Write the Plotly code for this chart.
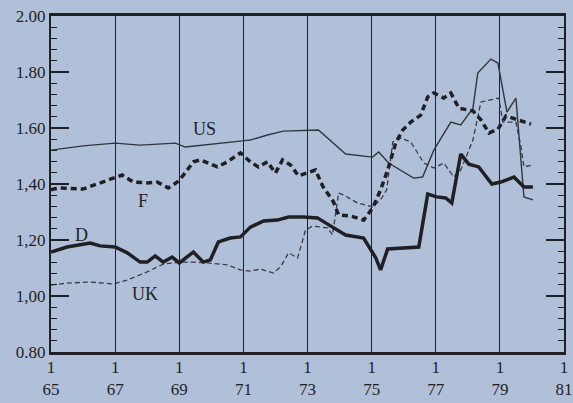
import plotly.graph_objects as go

# Time axis in fractional years (1965.0 = first quarter 1965)
us_years = [1965.0, 1966.0, 1967.0, 1967.78, 1968.88, 1969.19, 1970.97, 1971.22, 1971.75,
            1972.25, 1973.34, 1974.19, 1975.03, 1975.22, 1975.53, 1976.31, 1976.59, 1976.94,
            1977.47, 1977.78, 1978.16, 1978.31, 1978.72, 1978.94, 1979.22, 1979.5, 1979.75, 1980.03]
us_values = [1.521, 1.536, 1.546, 1.539, 1.546, 1.532, 1.554, 1.557, 1.575,
             1.589, 1.593, 1.507, 1.496, 1.514, 1.475, 1.421, 1.425, 1.521,
             1.621, 1.611, 1.671, 1.796, 1.846, 1.832, 1.657, 1.707, 1.354, 1.343]

f_years = [1965.0, 1965.22, 1966.0, 1966.53, 1967.0, 1967.22, 1967.56, 1968.0, 1968.31, 1968.66,
           1968.94, 1969.13, 1969.44, 1969.66, 1970.19, 1970.5, 1970.91, 1971.22, 1971.47, 1971.75,
           1972.0, 1972.22, 1972.47, 1972.72, 1973.25, 1973.47, 1973.81, 1973.97, 1974.34, 1974.75,
           1975.03, 1975.28, 1975.5, 1975.75, 1975.97, 1976.22, 1976.53, 1976.75, 1976.94, 1977.25,
           1977.47, 1977.72, 1978.16, 1978.41, 1978.66, 1978.94, 1979.19, 1979.56, 1979.97]
f_values = [1.379, 1.386, 1.382, 1.404, 1.425, 1.432, 1.407, 1.404, 1.407, 1.386,
            1.407, 1.432, 1.479, 1.486, 1.461, 1.479, 1.511, 1.479, 1.461, 1.479,
            1.439, 1.486, 1.468, 1.429, 1.450, 1.393, 1.336, 1.289, 1.286, 1.271,
            1.314, 1.379, 1.450, 1.546, 1.593, 1.621, 1.646, 1.711, 1.725, 1.707,
            1.725, 1.671, 1.661, 1.629, 1.582, 1.596, 1.643, 1.629, 1.614]

d_years = [1965.0, 1965.5, 1966.22, 1966.53, 1967.0, 1967.38, 1967.78, 1968.0, 1968.25, 1968.5,
           1968.78, 1969.0, 1969.44, 1969.75, 1969.97, 1970.22, 1970.59, 1970.91, 1971.22, 1971.63,
           1972.06, 1972.41, 1972.88, 1973.31, 1973.78, 1974.19, 1974.75, 1974.91, 1975.13, 1975.28,
           1975.5, 1976.47, 1976.75, 1977.03, 1977.31, 1977.5, 1977.78, 1978.03, 1978.34, 1978.75,
           1979.03, 1979.44, 1979.75, 1980.03]
d_values = [1.157, 1.175, 1.189, 1.179, 1.175, 1.154, 1.121, 1.121, 1.143, 1.121,
            1.139, 1.118, 1.157, 1.121, 1.129, 1.193, 1.207, 1.211, 1.246, 1.268,
            1.271, 1.282, 1.282, 1.279, 1.246, 1.218, 1.207, 1.175, 1.136, 1.093,
            1.168, 1.175, 1.364, 1.354, 1.350, 1.332, 1.507, 1.471, 1.461, 1.400,
            1.407, 1.425, 1.389, 1.389]

uk_years = [1965.0, 1965.5, 1966.22, 1966.94, 1967.38, 1968.0, 1968.5, 1969.03, 1969.44, 1969.88,
            1970.5, 1970.91, 1971.22, 1971.53, 1971.94, 1972.16, 1972.41, 1972.69, 1972.94, 1973.16,
            1973.63, 1973.78, 1973.97, 1974.13, 1974.56, 1975.03, 1975.28, 1975.47, 1975.66, 1975.91,
            1976.22, 1976.63, 1976.94, 1977.25, 1977.56, 1977.78, 1978.16, 1978.41, 1978.97, 1979.09,
            1979.5, 1979.66, 1979.75, 1980.03]
uk_values = [1.039, 1.046, 1.050, 1.043, 1.057, 1.086, 1.114, 1.121, 1.121, 1.118,
             1.111, 1.093, 1.089, 1.096, 1.082, 1.104, 1.154, 1.136, 1.236, 1.250,
             1.243, 1.218, 1.368, 1.361, 1.332, 1.318, 1.343, 1.379, 1.550, 1.564,
             1.550, 1.475, 1.457, 1.475, 1.425, 1.450, 1.557, 1.693, 1.707, 1.621,
             1.621, 1.532, 1.461, 1.468]

# Axis ticks
x_tick_years = [1965, 1967, 1969, 1971, 1973, 1975, 1977, 1979, 1981]
x_tick_labels = ["1<br>65", "1<br>67", "1<br>69", "1<br>71", "1<br>73",
                 "1<br>75", "1<br>77", "1<br>79", "1<br>81"]
y_tick_values = [0.80, 1.00, 1.20, 1.40, 1.60, 1.80, 2.00]
y_tick_labels = ["0.80", "1,00", "1,20", "1,40", "1.60", "1.80", "2.00"]
y_minor_step = 0.04

X_RANGE = [1965, 1981]
Y_RANGE = [0.80, 2.00]
BG = "#b1c0d9"
INK = "#1f1f24"
FONT = "Liberation Serif"

fig = go.Figure()

fig.add_trace(go.Scatter(x=uk_years, y=uk_values, mode="lines", name="UK",
                         line=dict(color="#3a3b44", width=1.3, dash="5px,3px")))
fig.add_trace(go.Scatter(x=us_years, y=us_values, mode="lines", name="US",
                         line=dict(color="#34353c", width=1.4)))
fig.add_trace(go.Scatter(x=f_years, y=f_values, mode="lines", name="F",
                         line=dict(color=INK, width=3.5, dash="6px,4px")))
fig.add_trace(go.Scatter(x=d_years, y=d_values, mode="lines", name="D",
                         line=dict(color=INK, width=3.5)))

# series names placed next to their curves
series_labels = [("US", 1969.78, 1.596), ("F", 1967.88, 1.339),
                 ("D", 1965.94, 1.218), ("UK", 1967.94, 1.007)]
for text, lx, ly in series_labels:
    fig.add_annotation(x=lx, y=ly, text=text, showarrow=False,
                       font=dict(family=FONT, size=18, color=INK))

fig.update_layout(
    width=573, height=403,
    margin=dict(l=51, r=9, t=16, b=51),
    paper_bgcolor=BG, plot_bgcolor=BG,
    showlegend=False,
    font=dict(family=FONT, size=17, color=INK),
    xaxis=dict(range=X_RANGE, tickmode="array", tickvals=x_tick_years, ticktext=x_tick_labels,
               showgrid=True, gridcolor=INK, gridwidth=1.2, zeroline=False,
               showline=True, mirror=True, linecolor=INK, linewidth=2.5, ticks="",
               ticklabelstandoff=-2, automargin=False,
               tickfont=dict(family=FONT, size=17, color=INK)),
    # framed y axis: long inward ticks at labels, short ones between, on both sides
    yaxis=dict(range=Y_RANGE, tickmode="array", tickvals=y_tick_values, ticktext=y_tick_labels,
               showgrid=False, zeroline=False, automargin=False,
               showline=True, mirror="ticks", linecolor=INK, linewidth=2,
               ticks="inside", ticklen=18, tickwidth=1.5, tickcolor=INK,
               minor=dict(ticks="inside", ticklen=6, tickwidth=1.3, tickcolor=INK,
                          tickmode="linear", tick0=Y_RANGE[0], dtick=y_minor_step,
                          showgrid=False),
               tickfont=dict(family=FONT, size=17, color=INK)),
)

fig.write_html("out.html")
